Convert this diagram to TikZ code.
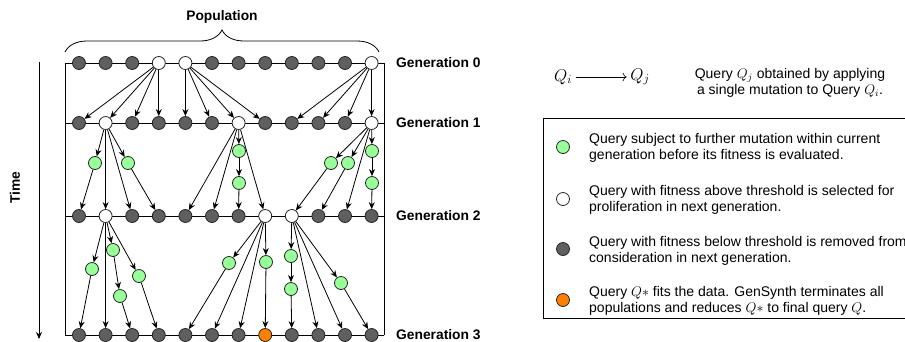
\documentclass[tikz,border=0pt]{standalone}
\usepackage{fix-cm}
\usepackage{fontspec}
\setmainfont{Liberation Sans}
\usepackage{amsmath}
\usetikzlibrary{positioning,arrows.meta,decorations.pathreplacing}

\definecolor{lowgray}{HTML}{5F5F5F}
\definecolor{mutgreen}{HTML}{99FF99}
\definecolor{bestorange}{HTML}{FF8000}

\begin{document}
\begin{tikzpicture}[
  x=1pt, y=-1pt,
  query/.style={draw=black!85, circle, line width=0.8pt, minimum size=13pt, inner sep=0pt},
  lowq/.style={query, fill=lowgray},
  selq/.style={query, fill=white},
  mutq/.style={query, fill=mutgreen},
  bestq/.style={query, fill=bestorange},
  edge/.style={-{Stealth[length=7pt,width=6pt]}, line width=0.8pt},
  lbl/.style={font=\fontsize{13.8}{16}\selectfont\bfseries},
  mathlbl/.style={font=\fontsize{17}{19}\selectfont, inner sep=3.5pt},
  txt/.style={font=\fontsize{14}{16.5}\selectfont, align=left, anchor=west, inner sep=0pt}
]
  \useasboundingbox (0,0) rectangle (905,341);

  % Frame
  \draw[line width=0.8pt] (65,63) -- (65,335) (384,63) -- (384,335);
  \foreach \y in {63,123,216,335} \draw[line width=0.8pt] (65,\y) -- (384,\y);

  % Populations
  \foreach \g/\y/\kinds in {
      0/63/{lowq,lowq,lowq,selq,selq,lowq,lowq,lowq,lowq,lowq,lowq,selq},
      1/123/{lowq,selq,lowq,lowq,lowq,lowq,selq,lowq,lowq,lowq,lowq,selq},
      2/216/{lowq,selq,lowq,lowq,lowq,lowq,lowq,selq,selq,lowq,lowq,lowq},
      3/335/{lowq,lowq,lowq,lowq,lowq,lowq,lowq,bestq,lowq,lowq,lowq,lowq}}
    \foreach \k [count=\i] in \kinds
      \node[\k] (g\g c\i) at ({79+26.6*(\i-1)},\y) {};

  % Mutations within a generation
  \node[mutq] (m1) at (95,163) {};
  \node[mutq] (m2) at (128,163) {};
  \node[mutq] (m3) at (239,151) {};
  \node[mutq] (m4) at (239,183) {};
  \node[mutq] (m5) at (331,163) {};
  \node[mutq] (m6) at (348,163) {};
  \node[mutq] (m7) at (372,151) {};
  \node[mutq] (m8) at (372,183) {};
  \node[mutq] (m9) at (92,269) {};
  \node[mutq] (m10) at (113,250) {};
  \node[mutq] (m11) at (120,296) {};
  \node[mutq] (m12) at (139,276) {};
  \node[mutq] (m13) at (229,263) {};
  \node[mutq] (m14) at (266,262) {};
  \node[mutq] (m15) at (291,256) {};
  \node[mutq] (m16) at (291,289) {};
  \node[mutq] (m17) at (341,283) {};

  % Labels
  \node[lbl] (pop) at (222,17) {Population};
  \draw[decorate, decoration={brace, amplitude=22pt}, line width=0.8pt] (65,52) -- (379,52);
  \node[lbl, rotate=90] (time) at (15,188) {Time};
  \coordinate (t0) at (39,62);
  \coordinate (t1) at (39,339);
  \draw[edge] (t0) -- (t1);
  \foreach \g/\y in {0/63,1/123,2/216,3/335}
    \node[lbl, anchor=west, inner sep=0pt] (gen\g) at (396,\y) {Generation \g};

  % Arrows
  \foreach \t in {1,...,4} \draw[edge] (g0c4) -- (g1c\t);
  \foreach \t in {5,...,8} \draw[edge] (g0c5) -- (g1c\t);
  \foreach \t in {9,...,12} \draw[edge] (g0c12) -- (g1c\t);
  \foreach \a/\b in {g1c2/m1, m1/g2c1, g1c2/g2c2, g1c2/g2c3, g1c2/m2, m2/g2c4,
      g1c7/g2c5, g1c7/g2c6, g1c7/m3, m3/m4, m4/g2c7, g1c7/g2c8,
      g1c12/m5, m5/g2c9, g1c12/m6, m6/g2c10, g1c12/g2c11, g1c12/m7, m7/m8, m8/g2c12}
    \draw[edge] (\a) -- (\b);
  \foreach \a/\b in {g2c2/m9, m9/g3c1, g2c2/g3c2, g2c2/m10, m10/m11, m11/g3c3, g2c2/m12, m12/g3c4,
      g2c8/m13, m13/g3c5, g2c8/g3c6, g2c8/g3c7, g2c8/m14, m14/g3c8,
      g2c9/m15, m15/m16, m16/g3c9, g2c9/g3c10, g2c9/g3c11, g2c9/m17, m17/g3c12}
    \draw[edge] (\a) -- (\b);

  % Legend
  \node[mathlbl] (qi) at (563,77) {$Q_i$};
  \node[mathlbl] (qj) at (640,77) {$Q_j$};
  \draw[-{To[length=4pt]}, line width=0.6pt] (qi) -- (qj);
  \node[font=\fontsize{14}{16.5}\selectfont, align=center] (mutdef) at (790,83)
    {Query $Q_j$ obtained by applying\\a single mutation to Query $Q_i$.};
  \draw[line width=0.8pt] (906,118) -- (543,118) -- (543,318) -- (906,318);
  \node[mutq] (keymut) at (563,147) {};
  \node[txt] (txtmut) at (589,148)
    {Query subject to further mutation within current\\generation before its fitness is evaluated.};
  \node[selq] (keysel) at (563,199) {};
  \node[txt] (txtsel) at (589,200)
    {Query with fitness above threshold is selected for\\proliferation in next generation.};
  \node[lowq] (keylow) at (563,249) {};
  \node[txt] (txtlow) at (589,251)
    {Query with fitness below threshold is removed from\\consideration in next generation.};
  \node[bestq] (keybest) at (563,300) {};
  \node[txt] (txtbest) at (589,301)
    {Query $Q*$ fits the data. GenSynth terminates all\\populations and reduces $Q*$ to final query $Q$.};
\end{tikzpicture}
\end{document}
